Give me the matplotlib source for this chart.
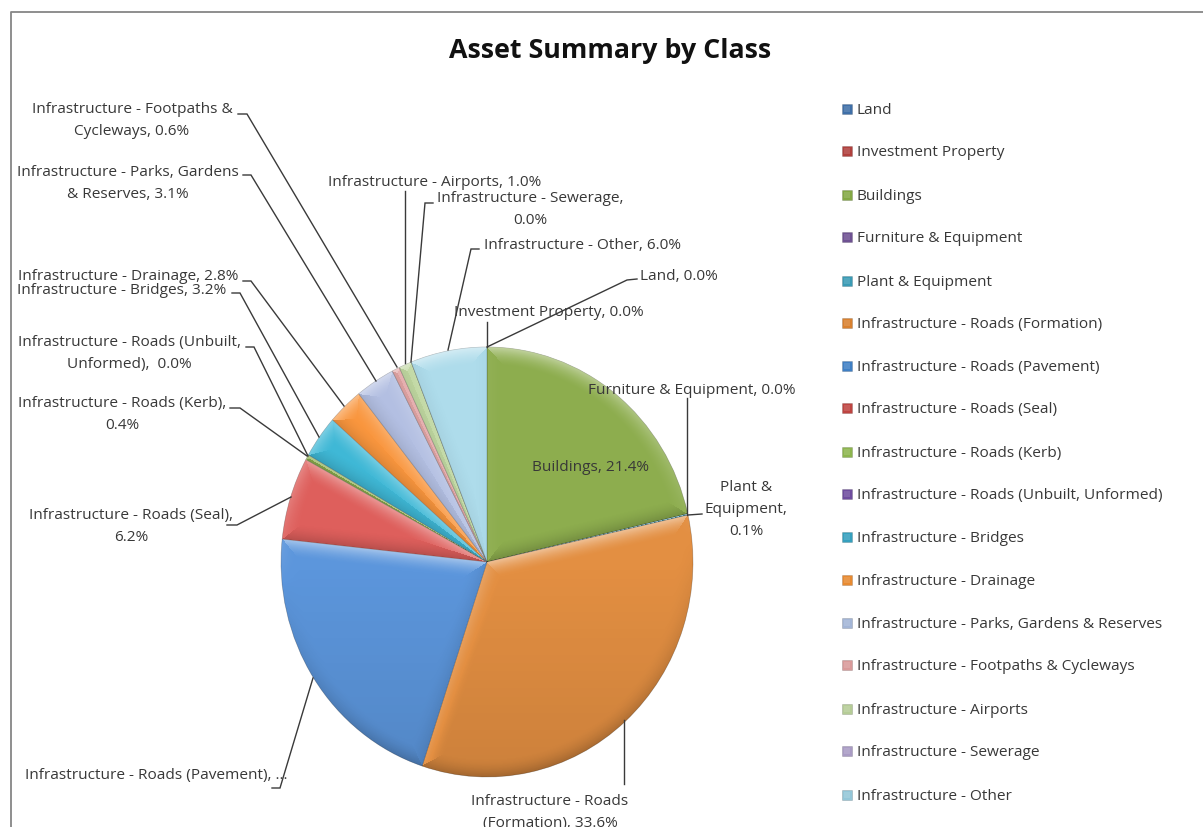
import numpy as np
import matplotlib
matplotlib.use('Agg')
from matplotlib import pyplot as plt

plt.rcParams['font.family'] = ['Open Sans', 'DejaVu Sans']

W, H = 1203, 827

categories = [
    'Land', 'Investment Property', 'Buildings', 'Furniture & Equipment',
    'Plant & Equipment', 'Infrastructure - Roads (Formation)',
    'Infrastructure - Roads (Pavement)', 'Infrastructure - Roads (Seal)',
    'Infrastructure - Roads (Kerb)', 'Infrastructure - Roads (Unbuilt, Unformed)',
    'Infrastructure - Bridges', 'Infrastructure - Drainage',
    'Infrastructure - Parks, Gardens & Reserves',
    'Infrastructure - Footpaths & Cycleways', 'Infrastructure - Airports',
    'Infrastructure - Sewerage', 'Infrastructure - Other',
]
values = [0.0, 0.0, 21.4, 0.0, 0.1, 33.6, 21.6, 6.2, 0.4, 0.0, 3.2, 2.8, 3.1, 0.6, 1.0, 0.0, 6.0]
colors = [
    '#4F81BD', '#C0504D', '#8DAD4E', '#8064A2', '#4BACC6', '#E38F42',
    '#5C96DC', '#DE5F5C', '#8FB04F', '#8064A2', '#3FB8D6', '#F9963E',
    '#B3BFE2', '#E3A6A6', '#BFD7A0', '#B1A5C8', '#AEDCEB',
]
legend_colors = [
    '#3F6FA8', '#B0403D', '#83A844', '#6E5192', '#3A9BB5', '#D9812F',
    '#3F7FC4', '#BE4441', '#8DB54E', '#6E4C9E', '#35A0BE', '#E88A30',
    '#A3B5D6', '#D99A9A', '#B5CC96', '#A99BC4', '#93C6D8',
]

# label text (with line breaks), centre of the text and leader line, in image pixels
labels = {
    'Land': ('Land, 0.0%', (679, 275), [(637, 279), (627, 280), (487, 347)]),
    'Investment Property': ('Investment Property, 0.0%', (549, 311), [(487, 322), (487, 347)]),
    'Buildings': ('Buildings, 21.4%', (590, 466), None),
    'Furniture & Equipment': ('Furniture & Equipment, 0.0%', (692, 389), [(687, 398), (687, 515)]),
    'Plant & Equipment': ('Plant &\nEquipment,\n0.1%', (746, 508), [(702, 514), (688, 515)]),
    'Infrastructure - Roads (Formation)': ('Infrastructure - Roads\n(Formation), 33.6%', (550, 811), [(624, 784), (624, 720)]),
    'Infrastructure - Roads (Pavement)': ('Infrastructure - Roads (Pavement), ...', (156, 774), [(272, 788), (280, 788), (313, 678)]),
    'Infrastructure - Roads (Seal)': ('Infrastructure - Roads (Seal),\n6.2%', (131, 525), [(227, 525), (237, 525), (291, 497)]),
    'Infrastructure - Roads (Kerb)': ('Infrastructure - Roads (Kerb),\n0.4%', (122, 413), [(230, 408), (240, 408), (307, 456)]),
    'Infrastructure - Roads (Unbuilt, Unformed)': ('Infrastructure - Roads (Unbuilt,\nUnformed),  0.0%', (129, 352), [(246, 347), (254, 347), (308, 456)]),
    'Infrastructure - Bridges': ('Infrastructure - Bridges, 3.2%', (122, 289), [(232, 293), (240, 293), (319, 437)]),
    'Infrastructure - Drainage': ('Infrastructure - Drainage, 2.8%', (128, 275), [(243, 281), (251, 281), (344, 406)]),
    'Infrastructure - Parks, Gardens & Reserves': ('Infrastructure - Parks, Gardens\n& Reserves, 3.1%', (128, 182), [(243, 175), (251, 175), (376, 381)]),
    'Infrastructure - Footpaths & Cycleways': ('Infrastructure - Footpaths &\nCycleways, 0.6%', (132, 119), [(238, 114), (247, 114), (397, 367)]),
    'Infrastructure - Airports': ('Infrastructure - Airports, 1.0%', (435, 181), [(405, 191), (405, 363)]),
    'Infrastructure - Sewerage': ('Infrastructure - Sewerage,\n0.0%', (530, 208), [(433, 203), (425, 203), (411, 362)]),
    'Infrastructure - Other': ('Infrastructure - Other, 6.0%', (583, 244), [(479, 249), (471, 249), (448, 350)]),
}
legend_y = [109, 151, 195, 237, 281, 323, 366, 408, 452, 494, 537, 580, 623, 665, 709, 751, 795]

# pie box in image pixels, the picture stretches it a little in height
PIE_LEFT, PIE_RIGHT, PIE_TOP, PIE_BOTTOM = 281, 693, 347, 777
RX, RY = (PIE_RIGHT - PIE_LEFT) / 2, (PIE_BOTTOM - PIE_TOP) / 2
TEXT = '#383838'
TEXT_DY = 1.5


def iy(y):
    return H - y


def shade_wedge(ax, wedge, bevel=18):
    """Light a wedge like an Excel bevel: lit on top edges, dark on lower ones."""
    t1, t2 = np.deg2rad(wedge.theta1), np.deg2rad(wedge.theta2)
    nx_px, ny_px = int(2 * RX), int(2 * RY)
    xx, yy = np.meshgrid(np.linspace(-1, 1, nx_px), np.linspace(-1, 1, ny_px))
    dx, dy = xx * RX, yy * RY
    r = np.hypot(xx, yy)
    # distance and outward normal for the three edges, in pixels
    d_arc = (1 - r) * (RX + RY) / 2
    nx_arc, ny_arc = xx / np.maximum(r, 1e-3), yy / np.maximum(r, 1e-3)
    e1 = np.array([np.cos(t1) * RX, np.sin(t1) * RY])
    e2 = np.array([np.cos(t2) * RX, np.sin(t2) * RY])
    e1, e2 = e1 / np.hypot(*e1), e2 / np.hypot(*e2)
    n1 = (e1[1], -e1[0])
    n2 = (-e2[1], e2[0])
    d1 = -(dx * n1[0] + dy * n1[1])
    d2 = -(dx * n2[0] + dy * n2[1])
    d = np.stack([d_arc, d1, d2])
    nx = np.stack([nx_arc, np.full_like(r, n1[0]), np.full_like(r, n2[0])])
    ny = np.stack([ny_arc, np.full_like(r, n1[1]), np.full_like(r, n2[1])])
    k = np.argmin(d, axis=0)
    dmin = np.take_along_axis(d, k[None], 0)[0]
    nxm = np.take_along_axis(nx, k[None], 0)[0]
    nym = np.take_along_axis(ny, k[None], 0)[0]
    # light comes from above, the whole pie also falls off a bit to the bottom
    lit = nym * 0.9 - nxm * 0.1
    fall = np.clip(1 - dmin / bevel, 0, 1) ** 1.7
    s = lit * fall * np.where(lit > 0, 0.5, 0.2) + np.minimum(yy, 0) * 0.1
    rgba = np.zeros(xx.shape + (4,))
    rgba[..., :3] = np.where(s[..., None] > 0, 1.0, 0.0)
    rgba[..., 3] = np.clip(np.abs(s), 0, 1)
    im = ax.imshow(rgba, extent=(-1, 1, -1, 1), origin='lower', zorder=2,
                   interpolation='bilinear', aspect='auto')
    im.set_clip_path(wedge)


def make_figure():
    fig = plt.figure(figsize=(W / 100, H / 100), dpi=100, facecolor='w')

    pie_ax = fig.add_axes([PIE_LEFT / W, (H - PIE_BOTTOM) / H, 2 * RX / W, 2 * RY / H])
    wedges, _ = pie_ax.pie(
        values, colors=colors, startangle=90, counterclock=False, radius=1,
        normalize=True, wedgeprops={'linewidth': 0.5, 'edgecolor': '#00000040'}
    )
    for w, v in zip(wedges, values):
        if v > 0:
            shade_wedge(pie_ax, w)
    pie_ax.set_xlim(-1, 1)
    pie_ax.set_ylim(-1, 1)
    pie_ax.set_aspect('auto')
    pie_ax.axis('off')

    ax = fig.add_axes([0, 0, 1, 1])
    ax.set_xlim(0, W)
    ax.set_ylim(0, H)
    ax.axis('off')
    ax.patch.set_alpha(0)

    # chart frame
    ax.plot([11, 11, W], [0, iy(12), iy(12)], color='#868686', lw=1.3, zorder=1)

    ax.text(610, iy(50.5), 'Asset Summary by Class', fontsize=19.3, fontweight='bold',
            color='#111111', ha='center', va='center')

    for name in categories:
        text, (tx, ty), leader = labels[name]
        if leader:
            ax.plot([p[0] for p in leader], [iy(p[1]) for p in leader],
                    color='#3a3a3a', lw=1, zorder=3, solid_joinstyle='miter')
        ax.text(tx, iy(ty + TEXT_DY), text, fontsize=11.1, color=TEXT, ha='center',
                va='center', linespacing=1.62, zorder=4)

    for name, color, y in zip(categories, legend_colors, legend_y):
        ax.scatter([847], [iy(y)], marker='s', s=60, color=color, edgecolor='#00000030',
                   linewidth=0.5, zorder=3)
        ax.scatter([847], [iy(y)], marker='s', s=22, color='#ffffff20', linewidth=0, zorder=3)
        ax.text(857, iy(y + TEXT_DY), name, fontsize=11.1, color=TEXT, va='center', ha='left')

    fig.savefig('out.png', dpi=100)


make_figure()
